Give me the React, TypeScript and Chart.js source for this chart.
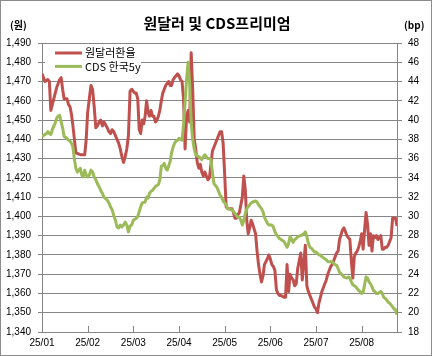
import React, { useEffect, useRef } from 'react';
import { Chart, registerables } from 'chart.js';

Chart.register(...registerables);

const chartTitle = '원달러 및 CDS프리미엄';
const leftUnit = '(원)';
const rightUnit = '(bp)';
const seriesNames = ['원달러환율', 'CDS 한국5y'];
const monthTickLabels = ['25/01', '25/02', '25/03', '25/04', '25/05', '25/06', '25/07', '25/08'];
const lastDate = '8/25';

const krwDates = [
  '1/1','1/3','1/5','1/6','1/7','1/8','1/10','1/11','1/12','1/13','1/14','1/15','1/16','1/18','1/19','1/20','1/21','1/22','1/23','1/24','1/27','1/30','1/31',
  '2/1','2/2','2/3','2/4','2/5','2/6','2/7','2/8','2/9','2/10','2/11','2/13','2/14','2/15','2/16','2/17','2/18','2/19','2/20','2/21','2/22','2/23','2/24','2/25','2/26','2/27','2/28',
  '3/2','3/3','3/4','3/5','3/6','3/7','3/8','3/9','3/10','3/11','3/12','3/13','3/14','3/15','3/16','3/17','3/18','3/19','3/20','3/21','3/22','3/23','3/24','3/25','3/26','3/27','3/28','3/29','3/30','3/31',
  '4/1','4/2','4/3','4/4','4/5','4/6','4/7','4/8','4/9','4/10','4/11','4/12','4/13','4/14','4/15','4/16','4/17','4/18','4/19','4/20','4/21','4/22','4/23','4/24','4/25','4/26','4/27','4/28','4/29','4/30',
  '5/1','5/2','5/3','5/5','5/6','5/7','5/8','5/9','5/10','5/11','5/13','5/14','5/15','5/16','5/17','5/18','5/19','5/20','5/22','5/23','5/24','5/25','5/26','5/27','5/28','5/30','5/31',
  '6/1','6/2','6/3','6/4','6/5','6/6','6/7','6/8','6/10','6/11','6/12','6/13','6/14','6/15','6/16','6/17','6/18','6/19','6/21','6/22','6/23','6/24','6/25','6/26','6/27','6/28','6/29','6/30',
  '7/1','7/2','7/3','7/4','7/5','7/6','7/7','7/8','7/9','7/11','7/12','7/13','7/14','7/15','7/16','7/17','7/19','7/20','7/21','7/22','7/23','7/24','7/25','7/26','7/27','7/28','7/29','7/30','7/31',
  '8/1','8/2','8/3','8/4','8/5','8/6','8/7','8/8','8/9','8/10','8/11','8/12','8/14','8/15','8/16','8/17','8/18','8/19','8/20','8/21','8/22','8/24','8/25'
];
const krwValues = [
  1474,1470,1471,1470,1455,1458,1464,1467,1469,1471,1472,1466,1461,1461,1458,1457,1453,1447,1440,1433,1432,1432,1440,
  1454,1461,1468,1466,1457,1446,1447,1449,1450,1447,1449,1446,1444,1443,1445,1444,1442,1440,1438,1435,1431,1428,1431,1435,1442,1465,1466,
  1464,1464,1461,1445,1443,1450,1448,1452,1460,1454,1452,1455,1452,1452,1449,1450,1452,1455,1460,1464,1466,1468,1469,1470,1468,1468,1471,1472,1473,1474,
  1473,1471,1470,1461,1435,1452,1455,1449,1485,1466,1440,1435,1428,1425,1427,1423,1421,1423,1421,1419,1420,1427,1434,1436,1438,1440,1442,1444,1444,1438,
  1422,1405,1404,1404,1404,1402,1399,1399,1401,1402,1410,1421,1414,1398,1391,1394,1398,1396,1391,1382,1375,1370,1366,1369,1375,1378,1380,
  1378,1375,1374,1372,1362,1360,1359,1359,1358,1358,1375,1361,1370,1368,1367,1364,1365,1373,1381,1367,1376,1385,1364,1361,1359,1357,1355,1353,
  1352,1350,1355,1358,1361,1363,1365,1367,1370,1374,1375,1377,1379,1381,1382,1388,1393,1394,1392,1390,1389,1388,1377,1368,1379,1381,1382,1384,1387,
  1391,1383,1393,1402,1396,1385,1391,1382,1390,1389,1390,1388,1390,1383,1383,1384,1384,1385,1387,1389,1399,1399,1395
];

const cdsDates = [
  '1/1','1/3','1/4','1/5','1/6','1/7','1/8','1/10','1/11','1/12','1/13','1/14','1/15','1/16','1/18','1/19','1/20','1/21','1/22','1/23','1/24','1/25','1/27','1/28','1/29','1/30','1/31',
  '2/1','2/2','2/3','2/4','2/5','2/6','2/7','2/8','2/9','2/10','2/11','2/13','2/14','2/15','2/16','2/17','2/18','2/19','2/20','2/21','2/22','2/23','2/24','2/25','2/26','2/27','2/28',
  '3/1','3/3','3/4','3/5','3/6','3/7','3/9','3/10','3/11','3/12','3/13','3/14','3/15','3/16','3/18','3/19','3/20','3/21','3/22','3/23','3/24','3/26','3/27','3/28','3/29','3/30','3/31',
  '4/1','4/2','4/3','4/4','4/5','4/6','4/7','4/8','4/9','4/10','4/11','4/12','4/14','4/16','4/17','4/18','4/20','4/21','4/22','4/23','4/24','4/26','4/27','4/28','4/29','4/30',
  '5/1','5/2','5/3','5/5','5/6','5/8','5/9','5/10','5/11','5/12','5/13','5/14','5/15','5/16','5/17','5/18','5/19','5/20','5/22','5/23','5/24','5/25','5/26','5/27','5/28','5/30','5/31',
  '6/1','6/2','6/3','6/4','6/5','6/6','6/7','6/8','6/10','6/11','6/12','6/13','6/14','6/15','6/16','6/17','6/18','6/19','6/21','6/22','6/23','6/24','6/25','6/26','6/27','6/28','6/29','6/30',
  '7/1','7/3','7/4','7/5','7/7','7/8','7/9','7/12','7/13','7/15','7/16','7/17','7/19','7/20','7/22','7/23','7/24','7/25','7/26','7/28','7/29','7/30','7/31',
  '8/1','8/2','8/3','8/4','8/5','8/6','8/7','8/8','8/9','8/10','8/11','8/12','8/14','8/15','8/16','8/17','8/18','8/19','8/20','8/22','8/23','8/24','8/25'
];
const cdsValues = [
  38.3,38.5,38.6,38.8,38.6,38.5,39.0,39.7,40.2,40.4,40.5,39.8,39.2,38.3,38.1,37.9,37.8,37.6,37.2,35.9,35.0,34.6,35.0,34.3,34.1,34.8,34.3,
  34.1,34.3,34.8,34.6,34.1,33.8,33.4,33.1,32.7,32.4,32.0,31.7,31.4,31.0,30.7,30.1,29.6,28.9,28.8,29.1,28.9,29.1,29.4,29.1,28.4,29.0,29.1,
  29.6,29.8,30.0,30.5,31.0,31.4,31.5,32.0,31.9,32.4,32.6,32.7,32.9,33.1,33.3,33.8,35.2,35.3,35.5,35.0,34.8,35.7,36.6,37.2,37.6,37.8,37.9,
  38.1,38.0,37.9,39.5,41.8,44.3,46.0,43.8,39.8,38.0,37.0,36.4,36.2,35.9,36.2,36.4,36.0,36.0,35.9,34.5,33.4,33.0,32.6,32.2,32.0,31.6,
  31.4,31.2,30.8,30.7,30.7,30.3,30.1,29.9,29.9,29.6,29.1,29.6,30.3,30.8,31.0,31.2,31.4,31.5,31.6,31.5,31.2,31.0,30.8,30.5,29.9,29.3,29.1,
  29.1,29.1,28.9,28.4,28.1,27.9,27.7,27.6,27.4,27.1,26.8,27.2,27.9,27.6,27.3,27.6,27.7,27.9,28.0,28.1,28.2,28.4,27.9,27.2,26.8,26.7,26.5,26.3,
  26.3,26.0,26.0,25.8,25.6,25.5,25.3,25.3,25.1,24.9,24.6,24.2,23.9,23.7,23.6,23.7,23.6,23.2,22.9,22.7,22.5,22.3,22.2,
  22.0,22.1,22.9,23.7,23.6,23.2,23.0,22.7,22.3,22.2,22.0,22.0,22.2,22.0,21.6,21.5,21.3,21.1,21.0,20.6,20.4,20.3,19.8
];

const daysInMonth = [31, 28, 31, 30, 31, 30, 31, 31, 30, 31, 30, 31];
function toPos(s: string): number {
  const [m, d] = s.split('/').map(Number);
  return (m - 1) + (d - 1) / daysInMonth[m - 1];
}

const GRID = '#868686';
const RED = '#C0504D';
const GREEN = '#9BBB59';
const TICK_FONT = { family: '"Liberation Sans", Arial, sans-serif', size: 10 };
const KR_FONT = '"Noto Sans CJK KR", "Noto Sans", sans-serif';

const decorPlugin = {
  id: 'decor',
  beforeDraw(chart: any) {
    const ctx = chart.ctx;
    ctx.save();
    ctx.fillStyle = '#ffffff';
    ctx.fillRect(0, 0, chart.width, chart.height);
    ctx.restore();
  },
  afterDatasetsDraw(chart: any) {
    const ctx = chart.ctx;
    const area = chart.chartArea;
    ctx.save();
    const lx = area.left + 3;
    const ly = area.top + 3;
    ctx.fillStyle = '#ffffff';
    ctx.fillRect(lx, ly, 96, 30);
    chart.data.datasets.forEach((ds: any, i: number) => {
      const y = area.top + 10 + i * 13.4;
      ctx.strokeStyle = ds.borderColor;
      ctx.lineWidth = 3;
      ctx.beginPath();
      ctx.moveTo(area.left + 13, y);
      ctx.lineTo(area.left + 40, y);
      ctx.stroke();
      ctx.fillStyle = '#000000';
      ctx.font = '11px ' + KR_FONT;
      ctx.textBaseline = 'middle';
      ctx.textAlign = 'left';
      ctx.fillText(ds.label, area.left + 43, y);
    });
    ctx.restore();
  },
  afterDraw(chart: any) {
    const ctx = chart.ctx;
    const area = chart.chartArea;
    const xs = chart.scales.x;
    ctx.save();
    ctx.strokeStyle = GRID;
    ctx.lineWidth = 1;
    for (let i = 1; i < monthTickLabels.length; i++) {
      const px = Math.round(xs.getPixelForValue(i)) + 0.5;
      ctx.beginPath();
      ctx.moveTo(px, area.bottom - 6);
      ctx.lineTo(px, area.bottom);
      ctx.stroke();
    }
    ctx.fillStyle = '#000000';
    ctx.textAlign = 'center';
    ctx.textBaseline = 'middle';
    ctx.font = 'bold 15px ' + KR_FONT;
    ctx.fillText(chartTitle, chart.width / 2 + 1, 23);
    ctx.font = 'bold 10px ' + KR_FONT;
    ctx.textAlign = 'left';
    ctx.fillText(leftUnit, 10, 25);
    ctx.fillText(rightUnit, 404, 25);
    ctx.strokeStyle = '#8c8c8c';
    ctx.strokeRect(0.5, 0.5, chart.width - 1, chart.height - 1);
    ctx.restore();
  }
};

export default function App() {
  const canvasRef = useRef<HTMLCanvasElement | null>(null);

  useEffect(() => {
    if (!canvasRef.current) return;
    const chart = new Chart(canvasRef.current, {
      type: 'line',
      data: {
        datasets: [
          {
            label: seriesNames[0],
            data: krwDates.map((d, i) => ({ x: toPos(d), y: krwValues[i] })),
            borderColor: RED,
            backgroundColor: RED,
            borderWidth: 3,
            pointRadius: 0,
            tension: 0,
            borderJoinStyle: 'round',
            yAxisID: 'y',
            order: 1,
          },
          {
            label: seriesNames[1],
            data: cdsDates.map((d, i) => ({ x: toPos(d), y: cdsValues[i] })),
            borderColor: GREEN,
            backgroundColor: GREEN,
            borderWidth: 3,
            pointRadius: 0,
            tension: 0,
            borderJoinStyle: 'round',
            yAxisID: 'y1',
            order: 0,
          },
        ],
      },
      options: {
        animation: false,
        responsive: false,
        maintainAspectRatio: false,
        layout: { padding: { top: 43, left: 0, right: 0, bottom: 0 } },
        plugins: {
          legend: { display: false },
          tooltip: { enabled: false },
          title: { display: false },
        },
        scales: {
          x: {
            type: 'linear',
            min: 0,
            max: toPos(lastDate),
            afterBuildTicks: (s: any) => {
              s.ticks = monthTickLabels.map((_, i) => ({ value: i }));
            },
            ticks: {
              callback: (v: any) => monthTickLabels[Math.round(v)] ?? '',
              font: TICK_FONT,
              color: '#000',
              padding: 5,
              maxRotation: 0,
              autoSkip: false,
            },
            grid: { display: false, drawTicks: false, tickLength: 0 },
            border: { color: GRID, width: 1 },
            afterFit: (s: any) => { s.height = 24; },
          },
          y: {
            position: 'left',
            min: 1340,
            max: 1490,
            ticks: {
              stepSize: 10,
              callback: (v: any) => Number(v).toLocaleString('en-US'),
              font: TICK_FONT,
              color: '#000',
              padding: 7,
            },
            grid: { color: GRID, lineWidth: 1, tickLength: 4 },
            border: { color: GRID, width: 1 },
            afterFit: (s: any) => { s.width = 42; },
          },
          y1: {
            position: 'right',
            min: 18,
            max: 48,
            ticks: {
              stepSize: 2,
              font: TICK_FONT,
              color: '#000',
              padding: 6,
            },
            grid: { drawOnChartArea: false, color: GRID, lineWidth: 1, tickLength: 5 },
            border: { color: GRID, width: 1 },
            afterFit: (s: any) => { s.width = 35; },
          },
        },
      },
      plugins: [decorPlugin],
    } as any);
    return () => chart.destroy();
  }, []);

  return (
    <div style={{ position: 'fixed', left: 0, top: 0, width: 432, height: 356 }}>
      <canvas ref={canvasRef} width={432} height={356} style={{ display: 'block', width: 432, height: 356 }} />
    </div>
  );
}
